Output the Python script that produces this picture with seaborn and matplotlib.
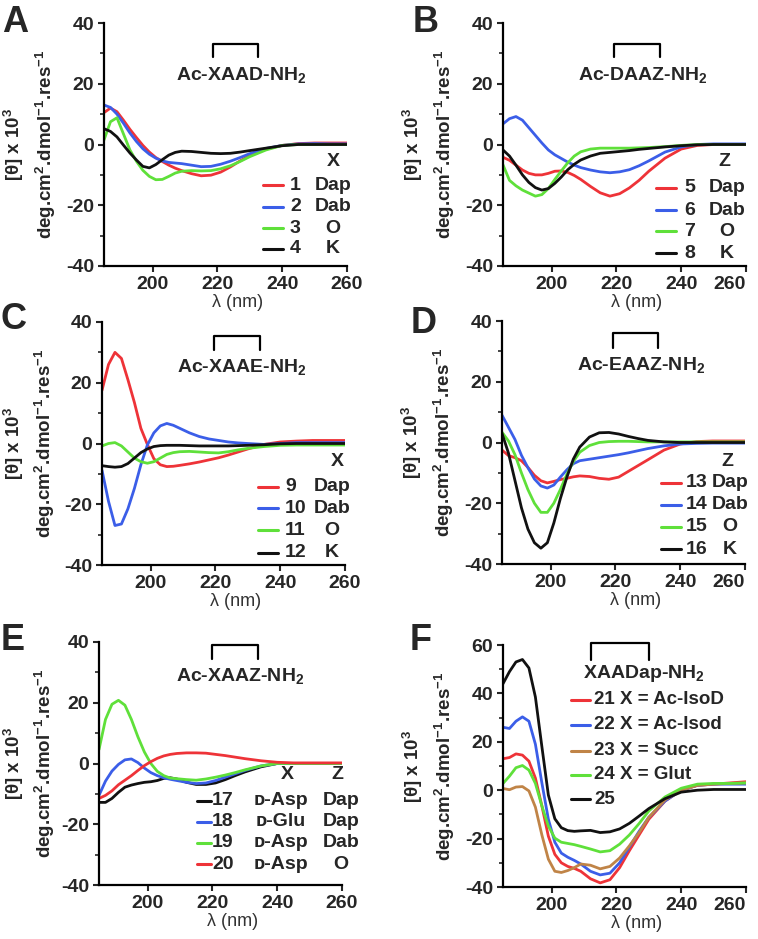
import numpy as np
import pandas as pd
import matplotlib
matplotlib.use("Agg")
import matplotlib.pyplot as plt
from matplotlib.ticker import MultipleLocator
import seaborn as sns

# -------------------------------
# Data ([theta] x 10^3)
# -------------------------------
wavelength = [185, 187, 189, 191, 193, 195, 197, 199, 201, 203, 205, 207, 209,
              212, 215, 218, 221, 224, 227, 230, 235, 240, 245, 250, 255, 260]

# Panel A: Ac-XAAD-NH2
a_dap = [10.5, 12, 10.8, 8, 5, 2.3, -0.3, -2.5, -4.3, -5.6, -6.8, -7.8, -8.6,
         -9.6, -10.3, -10.1, -9.1, -7.4, -5.4, -3.6, -1.5, -0.3, 0.3, 0.5, 0.5, 0.5]
a_dab = [13, 12.2, 10, 7, 3.8, 1, -1.4, -3.2, -4.5, -5.4, -5.9, -6.1, -6.3,
         -6.8, -7.3, -7.2, -6.5, -5.5, -4.3, -3, -1.3, -0.3, 0.2, 0.3, 0.2, 0.2]
a_orn = [1.5, 7.5, 8.8, 3.5, -1.8, -5.5, -8.5, -10.5, -11.6, -11.5, -10.5, -9.4, -8.8,
         -8.6, -8.7, -8.6, -8, -7, -5.6, -4, -1.8, -0.3, 0, 0, 0, 0]
a_lys = [5.2, 4.3, 2.5, -0.2, -2.8, -5.1, -7.2, -7.7, -6.6, -5, -3.5, -2.6, -2.2,
         -2.3, -2.6, -2.9, -3, -2.9, -2.5, -2, -1.2, -0.4, 0, 0, 0, 0]

# Panel B: Ac-DAAZ-NH2
b_dap = [-4.2, -5.2, -6.8, -8.4, -9.5, -10, -10, -9.5, -8.8, -8.7, -9.2, -10.2, -11.5,
         -13.8, -15.9, -17, -16.2, -14.3, -11.8, -8.8, -4.5, -1.5, -0.3, 0, 0, 0]
b_dab = [6.8, 8.5, 9.2, 8, 5.5, 3, 0.5, -1.8, -3.4, -4.6, -5.8, -6.8, -7.6,
         -8.4, -9, -9.3, -9, -8.3, -7, -5.4, -2.5, -0.8, 0, 0.2, 0.2, 0.2]
b_orn = [-6.7, -11.8, -13.6, -15, -16, -17, -16.5, -14.5, -11.5, -8.7, -6, -3.8, -2.4,
         -1.5, -1.2, -1.2, -1.2, -1.2, -1.1, -1, -0.7, -0.3, 0, 0, 0, 0]
b_lys = [-1.8, -3.8, -6.8, -10, -12.5, -14.2, -15, -14.5, -12.8, -10.7, -8.3, -6.5, -5.1,
         -3.8, -2.9, -2.6, -2.3, -2, -1.6, -1.3, -0.8, -0.4, -0.1, 0, 0, 0]

# Panel C: Ac-XAAE-NH2
c_dap = [17.5, 26, 30, 28, 21, 13.5, 5, -0.3, -5, -7, -7.6, -7.5, -7.2,
         -6.7, -6.1, -5.4, -4.7, -3.8, -2.8, -1.8, -0.3, 0.5, 0.8, 1, 1, 1]
c_dab = [-8.8, -19, -27, -26.5, -21.5, -14.8, -7, -0.5, 3.5, 5.8, 6.6, 6, 5,
         3.5, 2.3, 1.5, 1, 0.5, 0.2, 0, -0.3, 0, 0.3, 0.3, 0.3, 0.3]
c_orn = [-0.8, 0, 0.3, -0.8, -2.8, -4.8, -6, -6.5, -6, -4.8, -3.6, -3, -2.7,
         -2.6, -2.8, -3, -3.1, -2.7, -2.1, -1.6, -1, -0.6, -0.5, -0.5, -0.5, -0.5]
c_lys = [-7.3, -7.6, -7.8, -7.6, -6.6, -4.8, -3, -1.8, -1, -0.7, -0.6, -0.6, -0.6,
         -0.7, -0.8, -0.8, -0.8, -0.8, -0.7, -0.6, -0.4, -0.1, 0, 0, 0, 0]

# Panel D: Ac-EAAZ-NH2
d_dap = [-2.5, -4.3, -5, -6, -8.2, -10.8, -12.6, -13.3, -12.8, -12.2, -11.8, -11.3, -11,
         -11.2, -11.8, -12.1, -11.4, -9.5, -7.6, -5.7, -2.5, -0.5, 0.3, 0.5, 0.5, 0.5]
d_dab = [9, 5, 1, -4.2, -8.3, -12, -14.3, -15, -14, -11.4, -9, -7, -6,
         -5.5, -5, -4.5, -4, -3.4, -2.7, -2, -1.1, -0.5, -0.3, -0.2, -0.2, -0.2]
d_orn = [3.4, 0.5, -4, -10, -15.5, -20, -23, -23, -20, -15.5, -10.5, -6.3, -3.2,
         -1, 0, 0.3, 0.4, 0.4, 0.3, 0.2, 0.2, 0.2, 0.2, 0.2, 0.2, 0.2]
d_lys = [3, -3.5, -12.5, -21.5, -28.5, -33, -34.8, -33, -26.5, -18.5, -11.5, -5.5, -1.5,
         1.8, 3.2, 3.3, 2.8, 2, 1.3, 0.7, 0.2, 0, 0, 0, 0, 0]

# Panel E: Ac-XAAZ-NH2
e_17 = [-12.8, -12.8, -11.5, -9.5, -7.8, -7.1, -6.6, -6.2, -6, -5.6, -4.9, -4.7, -5.1,
        -6.2, -6.9, -6.9, -6.4, -5.3, -4, -2.8, -1.1, 0, 0, 0, 0, 0]
e_18 = [-10.5, -5.8, -2.5, -0.3, 1.2, 1.5, 0.3, -1.5, -3, -4, -4.7, -5.2, -5.6,
        -6.2, -6.6, -6.4, -5.6, -4.5, -3.4, -2.3, -0.8, 0, 0, 0, 0, 0]
e_19 = [4.6, 14.5, 19.5, 20.8, 19.2, 14.5, 8.8, 3.8, 0, -2.6, -4, -4.8, -5,
        -5.3, -5.5, -5.1, -4.5, -3.8, -3, -2.1, -0.8, 0, 0, 0, 0, 0]
e_20 = [-11.5, -10.5, -9, -7, -5.5, -4, -2.3, -0.7, 0.6, 1.7, 2.5, 3, 3.3,
        3.5, 3.5, 3.4, 3, 2.6, 2.1, 1.6, 0.9, 0.4, 0.2, 0.2, 0.2, 0.2]

# Panel F: XAADap-NH2
f_21 = [13, 13.5, 15, 14.5, 12, 5, -6.5, -19, -26.5, -30, -31.5, -32.3, -33.5,
        -36.6, -38.3, -37, -32, -25, -18.5, -12, -4.5, 0, 2, 2.5, 3, 3.5]
f_22 = [26, 25.5, 28.5, 30.3, 28.5, 19, 3, -12, -21.5, -26, -27.7, -29, -30.5,
        -33.5, -35, -34.3, -30, -23.5, -17, -11.2, -4.5, 0, 2, 2.5, 2.5, 2.5]
f_23 = [0.7, 0.2, 1.3, 1.5, -0.3, -7, -18.5, -28.5, -33.5, -34, -33.2, -32, -30.5,
        -31, -32.5, -31.5, -28, -23, -17.5, -11.2, -4, 0, 2, 2.5, 2.8, 3]
f_24 = [2.8, 5.8, 9.3, 10.2, 8.3, 2.8, -6.5, -14.8, -19.8, -21.5, -22, -22.5, -23.2,
        -24.3, -25.5, -25, -22.3, -18.5, -13.8, -8.6, -2.8, 0.8, 2.5, 2.8, 2.8, 3]
f_25 = [44, 49, 53, 54, 50.5, 38.5, 18, -2, -11.8, -15.5, -16.7, -17, -16.8,
        -16.6, -17.5, -17.2, -16, -13.7, -10.7, -7.6, -3.5, -0.8, 0, 0.3, 0.3, 0.3]

# -------------------------------
# Style
# -------------------------------
sns.set_style("white")
plt.rcParams['font.family'] = ['Liberation Sans', 'DejaVu Sans']
plt.rcParams['font.weight'] = 'bold'
plt.rcParams['axes.labelweight'] = 'bold'
plt.rcParams['axes.unicode_minus'] = False
plt.rcParams['mathtext.fontset'] = 'custom'
plt.rcParams['mathtext.rm'] = 'Liberation Sans'
plt.rcParams['mathtext.bf'] = 'Liberation Sans:bold'
plt.rcParams['mathtext.it'] = 'Liberation Sans:italic'

RED, BLUE, GREEN, BLACK, BROWN = '#ee3338', '#3b5ee8', '#5fe03a', '#111111', '#c08447'
FS = 14
W, H = 758, 939
YLABEL = ("[θ] x 10$^{\\mathbf{3}}$\n"
          "deg.cm$^{\\mathbf{2}}$.dmol$^{\\mathbf{-1}}$.res$^{\\mathbf{-1}}$")

fig = plt.figure(figsize=(W / 100, H / 100), dpi=100)


def make_axes(left, top, width=243, height=243):
    return fig.add_axes([left / W, 1 - (top + height) / H, width / W, height / H])


def draw_panel(ax, curves, colors, ylim, ystep, label_x=-0.19):
    rows = []
    for name, vals in curves.items():
        rows += [{'nm': x, 'theta': v, 'sample': name} for x, v in zip(wavelength, vals)]
    df = pd.DataFrame(rows)
    sns.lineplot(data=df, x='nm', y='theta', hue='sample', palette=colors,
                 estimator=None, sort=False, legend=False, linewidth=2.0,
                 solid_joinstyle='round', ax=ax)
    ax.set_xlim(185, 260)
    ax.set_ylim(*ylim)
    ax.set_xticks([200, 220, 240, 260])
    ax.set_yticks(np.arange(ylim[0], ylim[1] + 1, ystep))
    ax.yaxis.set_minor_locator(MultipleLocator(10))
    sns.despine(ax=ax)
    for s in ['left', 'bottom']:
        ax.spines[s].set_linewidth(1.6)
        ax.spines[s].set_color('black')
    ax.tick_params(axis='both', which='major', direction='out', length=4, width=1.5,
                   labelsize=FS, pad=3, left=True, bottom=True)
    ax.tick_params(axis='y', which='minor', direction='out', length=3, width=1.2, left=True)
    ax.set_ylabel(YLABEL, fontsize=13.5, fontweight='bold', linespacing=1.4)
    ax.yaxis.set_label_coords(label_x, 0.5)
    ax.set_xlabel("λ (nm)", fontsize=13, fontweight='normal', color='#333333')
    ax.xaxis.set_label_coords(0.55, -0.115)


def bracket(ax, x0, x1, y0, y1, text, tx, ty):
    ax.plot([x0, x0, x1, x1], [y0, y1, y1, y0], color='black', lw=1.6, clip_on=False)
    ax.text(tx, ty, text, ha='center', va='baseline', fontsize=FS, fontweight='bold')


def legend_rows(ax, entries, lx, nx, namex, ys, header=None, hy=None):
    for (num, name, col), y in zip(entries, ys):
        ax.plot(lx, [y, y], color=col, lw=2.2, transform=ax.transAxes, clip_on=False)
        ax.text(nx, y, num, transform=ax.transAxes, ha='left', va='center',
                fontsize=FS, fontweight='bold')
        ax.text(namex, y, name, transform=ax.transAxes, ha='center', va='center',
                fontsize=FS, fontweight='bold')
    if header:
        for hx, ht in header:
            ax.text(hx, hy, ht, transform=ax.transAxes, ha='center', va='center',
                    fontsize=FS, fontweight='bold')


def panel_letter(x, baseline, letter):
    fig.text(x / W, 1 - baseline / H, letter, fontsize=26, fontweight='bold',
             ha='left', va='baseline')


def last_tick_inside(ax):
    # keep the "260" label inside the right edge of the figure
    lbl = ax.xaxis.get_major_ticks()[-1].label1
    lbl.set_horizontalalignment('right')


# -------------------------------
# A
# -------------------------------
ax = make_axes(104, 23)
draw_panel(ax, {'1': a_dap, '2': a_dab, '3': a_orn, '4': a_lys},
           {'1': RED, '2': BLUE, '3': GREEN, '4': BLACK}, (-40, 40), 20)
bracket(ax, 218.5, 232.4, 28.8, 33.2, "Ac-XAAD-NH$_{\\mathbf{2}}$", 227.4, 21.3)
legend_rows(ax, [('1', 'Dap', RED), ('2', 'Dab', BLUE), ('3', 'O', GREEN), ('4', 'K', BLACK)],
            [0.654, 0.737], 0.765, 0.942, [0.333, 0.243, 0.156, 0.070],
            header=[(0.942, 'X')], hy=0.428)
panel_letter(2, 32, 'A')

# -------------------------------
# B
# -------------------------------
ax = make_axes(503, 23)
draw_panel(ax, {'5': b_dap, '6': b_dab, '7': b_orn, '8': b_lys},
           {'5': RED, '6': BLUE, '7': GREEN, '8': BLACK}, (-40, 40), 20)
bracket(ax, 219.4, 233.4, 28.8, 33.2, "Ac-DAAZ-NH$_{\\mathbf{2}}$", 228.0, 21.3)
legend_rows(ax, [('5', 'Dap', RED), ('6', 'Dab', BLUE), ('7', 'O', GREEN), ('8', 'K', BLACK)],
            [0.628, 0.711], 0.745, 0.922, [0.321, 0.230, 0.144, 0.053],
            header=[(0.909, 'Z')], hy=0.428)
last_tick_inside(ax)
panel_letter(413, 32, 'B')

# -------------------------------
# C
# -------------------------------
ax = make_axes(102, 322)
draw_panel(ax, {'9': c_dap, '10': c_dab, '11': c_orn, '12': c_lys},
           {'9': RED, '10': BLUE, '11': GREEN, '12': BLACK}, (-40, 40), 20, label_x=-0.185)
bracket(ax, 219.7, 233.8, 30.7, 35.3, "Ac-XAAE-NH$_{\\mathbf{2}}$", 228.2, 23.6)
legend_rows(ax, [('9', 'Dap', RED), ('10', 'Dab', BLUE), ('11', 'O', GREEN), ('12', 'K', BLACK)],
            [0.642, 0.724], 0.753, 0.947, [0.322, 0.233, 0.144, 0.051],
            header=[(0.967, 'X')], hy=0.425)
panel_letter(1, 329, 'C')

# -------------------------------
# D
# -------------------------------
ax = make_axes(502, 321)
draw_panel(ax, {'13': d_dap, '14': d_dab, '15': d_orn, '16': d_lys},
           {'13': RED, '14': BLUE, '15': GREEN, '16': BLACK}, (-40, 40), 20)
bracket(ax, 219.3, 233.2, 31.2, 35.9, "Ac-EAAZ-NH$_{\\mathbf{2}}$", 227.9, 23.8)
legend_rows(ax, [('13', 'Dap', RED), ('14', 'Dab', BLUE), ('15', 'O', GREEN), ('16', 'K', BLACK)],
            [0.653, 0.735], 0.756, 0.938, [0.335, 0.243, 0.153, 0.060],
            header=[(0.927, 'Z')], hy=0.421)
last_tick_inside(ax)
panel_letter(411, 333, 'D')

# -------------------------------
# E
# -------------------------------
ax = make_axes(99, 642)
draw_panel(ax, {'17': e_17, '18': e_18, '19': e_19, '20': e_20},
           {'17': BLACK, '18': BLUE, '19': GREEN, '20': RED}, (-40, 40), 20, label_x=-0.172)
bracket(ax, 220.0, 234.1, 34.4, 39.1, "Ac-XAAZ-NH$_{\\mathbf{2}}$", 228.5, 27.1)
e_rows = [('17', 'ᴅ-Asp', 'Dap', BLACK), ('18', 'ᴅ-Glu', 'Dap', BLUE),
          ('19', 'ᴅ-Asp', 'Dab', GREEN), ('20', 'ᴅ-Asp', 'O', RED)]
for (num, xres, zres, col), y in zip(e_rows, [0.346, 0.260, 0.174, 0.085]):
    ax.plot([0.404, 0.459], [y, y], color=col, lw=2.2, transform=ax.transAxes, clip_on=False)
    ax.text(0.466, y, num, transform=ax.transAxes, ha='left', va='center', fontsize=FS)
    ax.text(0.748, y, xres, transform=ax.transAxes, ha='center', va='center', fontsize=FS)
    ax.text(0.996, y, zres, transform=ax.transAxes, ha='center', va='center', fontsize=FS)
ax.text(0.773, 0.453, 'X', transform=ax.transAxes, ha='center', va='center', fontsize=FS)
ax.text(0.982, 0.453, 'Z', transform=ax.transAxes, ha='center', va='center', fontsize=FS)
panel_letter(1, 650, 'E')

# -------------------------------
# F
# -------------------------------
ax = make_axes(503, 645, height=242)
draw_panel(ax, {'21': f_21, '22': f_22, '23': f_23, '24': f_24, '25': f_25},
           {'21': RED, '22': BLUE, '23': BROWN, '24': GREEN, '25': BLACK}, (-40, 60), 20)
bracket(ax, 212.3, 230.1, 54, 61, "XAADap-NH$_{\\mathbf{2}}$", 228.6, 46.2)
f_rows = [('21 X = Ac-IsoD', RED), ('22 X = Ac-Isod', BLUE), ('23 X = Succ', BROWN),
          ('24 X = Glut', GREEN), ('25', BLACK)]
for (lab, col), y in zip(f_rows, [0.774, 0.670, 0.564, 0.463, 0.362]):
    ax.plot([0.280, 0.358], [y, y], color=col, lw=2.2, transform=ax.transAxes, clip_on=False)
    ax.text(0.374, y, lab, transform=ax.transAxes, ha='left', va='center', fontsize=13.5)
last_tick_inside(ax)
panel_letter(410, 650, 'F')

plt.savefig("out.png", dpi=100)
plt.close()
